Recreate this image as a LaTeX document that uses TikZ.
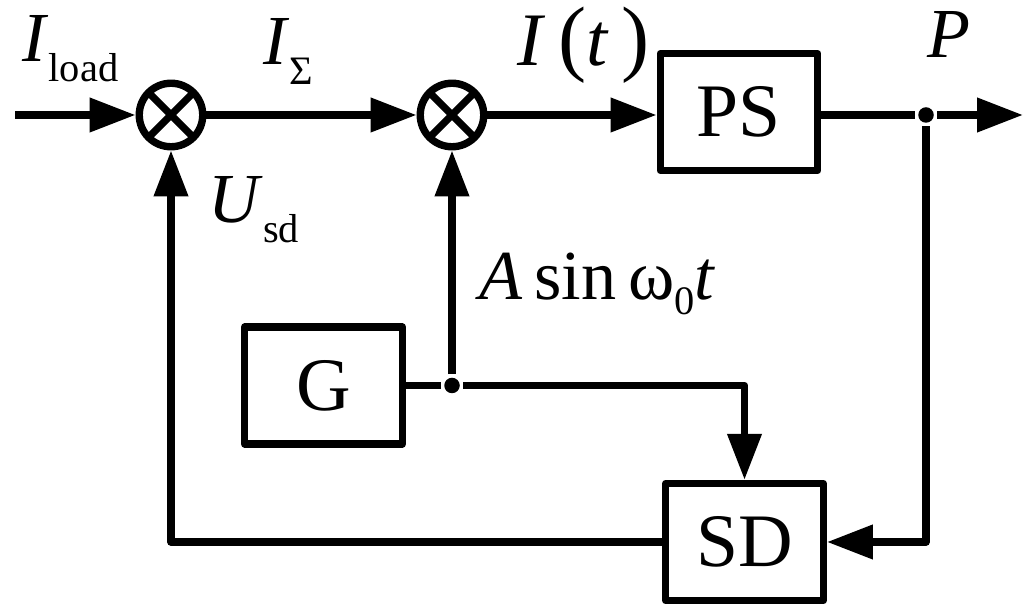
\documentclass[tikz,border=0pt]{standalone}
\usepackage{fontspec}
\setmainfont{Liberation Serif}
\usetikzlibrary{arrows.meta,positioning}

\newcommand{\lowsub}[2][0.28em]{\raisebox{-#1}{\fontsize{23}{23}\selectfont #2}}
\newcommand{\bigpar}[1]{{\fontsize{48}{48}\selectfont #1}}

\begin{document}
\begin{tikzpicture}[line width=4.2pt,line join=round,
  every node/.style={font=\fontsize{40}{40}\selectfont},
  blk/.style={draw,minimum width=3.15cm,minimum height=2.34cm,inner sep=0pt,font=\fontsize{43}{43}\selectfont},
  mult/.style={draw,circle,minimum size=1.27cm,inner sep=0pt,
    path picture={\draw[line width=4.2pt] (path picture bounding box.north west)--(path picture bounding box.south east)
      (path picture bounding box.south west)--(path picture bounding box.north east);}},
  sig/.style={-{Triangle[length=0.92cm,width=0.66cm]}},
  junc/.style={circle,fill,inner sep=0pt,minimum size=0.31cm}]
\useasboundingbox (0,0) rectangle (20.52,12.1);
% blocks
\node[mult] (s1) at (3.42,9.80) {};
\node[mult] (s2) at (9.04,9.80) {};
\node[blk] (ps) at (14.78,9.86) {PS};
\node[blk] (g) at (6.47,4.39) {G};
\node[blk] (sd) at (14.89,1.26) {SD};
\coordinate (in) at (0.30,9.80);
\coordinate (out) at (20.46,9.80);
\node[junc] (br) at (18.52,9.80) {};
\node[junc] (gj) at (g.east -| s2) {};
% signals
\draw[sig] (in) -- (s1);
\draw[sig] (s1) -- (s2);
\draw[sig] (s2) -- (s2 -| ps.west);
\draw (s2 -| ps.east) -- (br);
\draw[sig] (br) -- (out);
\draw[sig] (br) |- (sd.east);
\draw[sig] (sd.west) -| (s1.south);
\draw (g.east) -- (gj);
\draw[sig] (gj) -- (s2.south);
\draw[sig] (gj) -| (sd.north);
% labels
\node[anchor=base west] (lload) at (0.26,10.86) {\textit{I}\lowsub{load}};
\node[anchor=base west] (lsum) at (5.08,10.80) {\textit{I}\lowsub{Σ}};
\node[anchor=base west,font=\fontsize{43}{43}\selectfont] (lit) at (10.16,10.78) {\textit{I}\,\bigpar{(}\textit{t}\,\bigpar{)}};
\node[anchor=base west] (lp) at (18.36,10.94) {\textit{P}};
\node[anchor=base west] (lusd) at (3.98,7.64) {\textit{U}\lowsub{sd}};
\node[anchor=base west] (lsin) at (9.40,6.10) {\textit{A}\,sin\,ω\lowsub[0.2em]{0}\textit{t}};
\end{tikzpicture}
\end{document}
